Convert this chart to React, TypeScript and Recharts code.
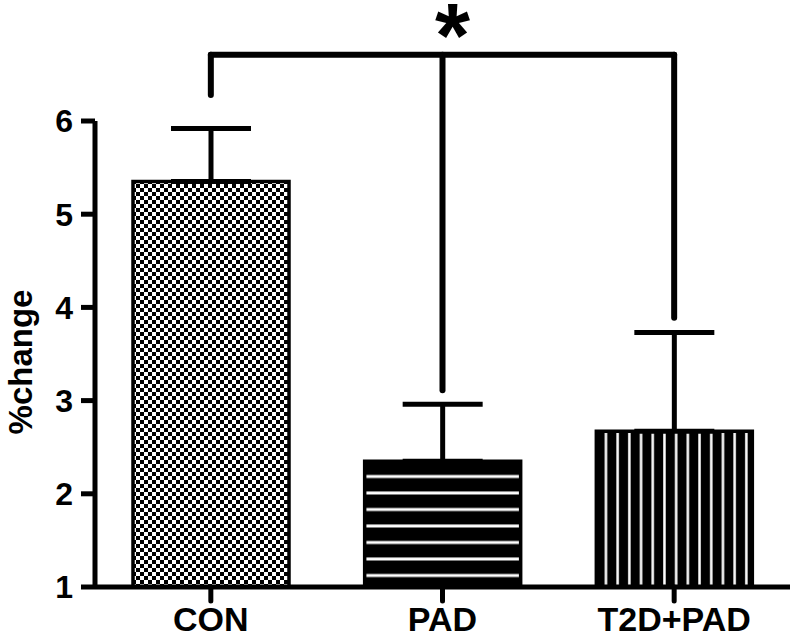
import React from 'react';
import { BarChart, Bar, XAxis, YAxis, ErrorBar, ReferenceLine } from 'recharts';

const groups = ['CON', 'PAD', 'T2D+PAD'];
const means = [5.35, 2.35, 2.67];
const errUp = [0.57, 0.61, 1.06];
const yTicks = [1, 2, 3, 4, 5, 6];
const patterns = ['url(#checker)', 'url(#hstripe)', 'url(#vstripe)'];

// significance bracket (y values in data units)
const bracketTop = 6.71;
const bracketEnds = [6.28, 3.11, 3.89];

const FONT = '"Liberation Sans", Arial, sans-serif';

const data = groups.map((g, i) => ({ name: g, value: means[i], err: [0, errUp[i]], fill: patterns[i] }));

const YLabel = (props: any) => {
  const vb = props.viewBox || { x: 0, y: 0, width: 0, height: 0 };
  return (
    <text
      transform={`translate(${vb.x + 32}, ${vb.y + vb.height / 2 + 8}) rotate(-90)`}
      textAnchor="middle"
      fontFamily={FONT}
      fontWeight="bold"
      fontSize={33}
      fill="#000"
    >
      %change
    </text>
  );
};

const App: React.FC = () => {
  return (
    <div style={{ position: 'absolute', left: 0, top: 0, width: 800, height: 641, background: '#fff' }}>
      <BarChart width={800} height={641} data={data} margin={{ top: 121, right: 10, left: 0, bottom: 0 }} barCategoryGap={38}>
        <defs>
          <pattern id="checker" patternUnits="userSpaceOnUse" width={8} height={8}>
            <rect x={0} y={0} width={8} height={8} fill="#fff" />
            <rect x={0} y={0} width={4} height={4} fill="#000" />
            <rect x={4} y={4} width={4} height={4} fill="#000" />
          </pattern>
          <pattern id="hstripe" patternUnits="userSpaceOnUse" width={16} height={16.5}>
            <rect x={0} y={0} width={16} height={16.5} fill="#000" />
            <rect x={0} y={13} width={16} height={3} fill="#fff" />
          </pattern>
          <pattern id="vstripe" patternUnits="userSpaceOnUse" width={11.7} height={16}>
            <rect x={0} y={0} width={11.7} height={16} fill="#000" />
            <rect x={8} y={0} width={2.5} height={16} fill="#fff" />
          </pattern>
        </defs>
        <XAxis
          dataKey="name"
          height={54}
          axisLine={{ stroke: '#000', strokeWidth: 5 }}
          tickLine={{ stroke: '#000', strokeWidth: 5, strokeLinecap: 'round' }}
          tickSize={14}
          tickMargin={6}
          tick={{ fill: '#000', fontFamily: FONT, fontWeight: 'bold', fontSize: 34 }}
        />
        <YAxis
          type="number"
          domain={[1, 6]}
          ticks={yTicks}
          width={95}
          axisLine={{ stroke: '#000', strokeWidth: 5 }}
          tickLine={{ stroke: '#000', strokeWidth: 5 }}
          tickSize={14}
          tickMargin={8}
          tick={{ fill: '#000', fontFamily: FONT, fontWeight: 'bold', fontSize: 32 }}
          label={<YLabel />}
        />
        <Bar dataKey="value" barSize={156} stroke="#000" strokeWidth={3.5} isAnimationActive={false}>
          <ErrorBar dataKey="err" direction="y" width={40} stroke="#000" strokeWidth={5} />
        </Bar>
        <ReferenceLine
          segment={[{ x: groups[0], y: bracketTop }, { x: groups[2], y: bracketTop }]}
          ifOverflow="visible"
          stroke="#000"
          strokeWidth={6}
          strokeLinecap="round"
          label={{ value: '*', position: 'top', offset: -12, dx: 10, fill: '#000', fontFamily: FONT, fontWeight: 'bold', fontSize: 90 }}
        />
        {groups.map((g, i) => (
          <ReferenceLine
            key={g}
            segment={[{ x: g, y: bracketTop }, { x: g, y: bracketEnds[i] }]}
            ifOverflow="visible"
            stroke="#000"
            strokeWidth={6}
            strokeLinecap="round"
          />
        ))}
      </BarChart>
    </div>
  );
};

export default App;
